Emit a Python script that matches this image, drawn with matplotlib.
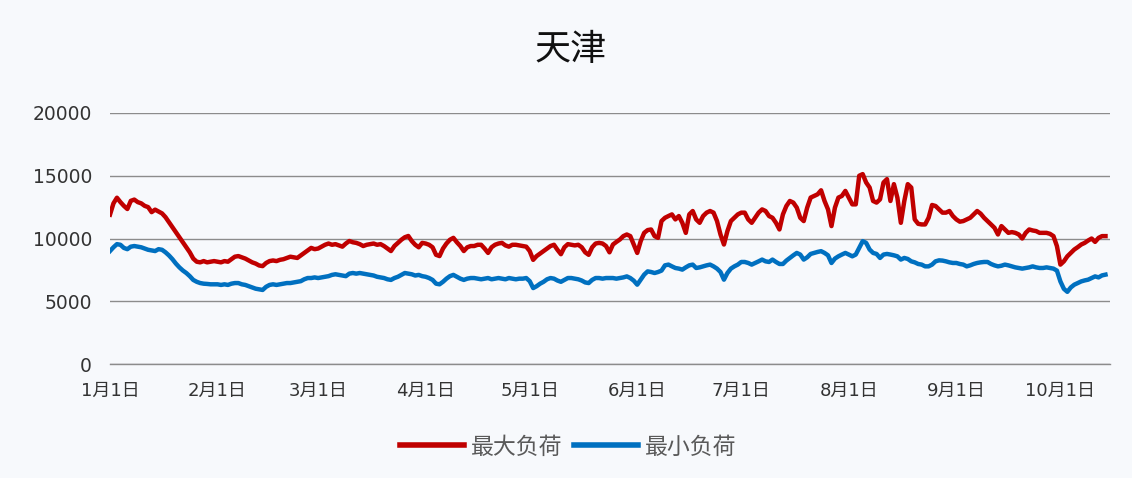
import matplotlib
matplotlib.use('Agg')
import matplotlib.pyplot as plt
import pandas as pd

plt.rcParams['font.family'] = ['DejaVu Sans', 'Noto Sans CJK SC']

# daily load, 2020-01-01 onwards (one list chunk per month)
max_load = (
    [11900, 12800, 13250, 12900, 12600, 12350, 13000, 13100, 12900, 12800, 12600, 12500, 12100, 12300, 12150, 12000,
     11700, 11300, 10900, 10500, 10100, 9700, 9300, 8900, 8400, 8150, 8100, 8200, 8100, 8150, 8200]
    + [8150, 8100, 8200, 8150, 8350, 8550, 8600, 8500, 8400, 8250, 8100, 8000, 7850, 7800, 8050, 8200, 8250, 8200,
       8300, 8350, 8450, 8550, 8500, 8450, 8650, 8850, 9050, 9250, 9150]
    + [9200, 9350, 9500, 9600, 9500, 9550, 9450, 9350, 9600, 9800, 9700, 9650, 9550, 9400, 9500, 9550, 9600, 9500,
       9550, 9400, 9200, 9000, 9400, 9650, 9900, 10100, 10200, 9800, 9500, 9300, 9650]
    + [9600, 9500, 9300, 8700, 8600, 9200, 9600, 9900, 10050, 9700, 9400, 9000, 9300, 9400, 9400, 9500, 9500, 9200,
       8850, 9300, 9500, 9600, 9650, 9450, 9350, 9500, 9500, 9450, 9400, 9350]
    + [9000, 8300, 8600, 8800, 9000, 9200, 9400, 9500, 9100, 8750, 9300, 9550, 9500, 9450, 9500, 9300, 8900, 8700,
       9300, 9600, 9650, 9600, 9400, 8900, 9520, 9730, 9920, 10190, 10320, 10190, 9520]
    + [8850, 9790, 10450, 10670, 10720, 10190, 10050, 11390, 11650, 11790, 11920, 11520, 11790, 11250, 10450, 11920,
       12190, 11520, 11250, 11790, 12060, 12190, 12060, 11390, 10320, 9520, 10590, 11390, 11650, 11920]
    + [12060, 12060, 11520, 11250, 11650, 12060, 12320, 12190, 11790, 11650, 11250, 10720, 11920, 12590, 12990, 12860,
       12460, 11650, 11390, 12460, 13260, 13390, 13520, 13840, 12990, 12320, 10990, 12460, 13260, 13390, 13790]
    + [13260, 12720, 12720, 15000, 15130, 14460, 14060, 12990, 12860, 13120, 14460, 14730, 12990, 14330, 13260, 11250,
       12990, 14330, 14060, 11520, 11170, 11120, 11120, 11650, 12670, 12590, 12320, 12060, 12060, 12190, 11790]
    + [11520, 11340, 11390, 11520, 11650, 11920, 12190, 11980, 11650, 11390, 11120, 10850, 10320, 10990, 10720, 10450,
       10510, 10450, 10320, 10000, 10450, 10720, 10640, 10590, 10450, 10450, 10450, 10370, 10190, 9390]
    + [7920, 8180, 8580, 8850, 9120, 9310, 9520, 9650, 9840, 10000, 9730, 10050, 10190, 10190]
)

min_load = (
    [9000, 9300, 9550, 9500, 9250, 9150, 9350, 9400, 9350, 9300, 9200, 9100, 9050, 9000, 9150, 9100, 8900, 8650,
     8350, 8000, 7700, 7450, 7250, 7000, 6700, 6550, 6450, 6400, 6380, 6350, 6350]
    + [6350, 6300, 6350, 6300, 6400, 6450, 6450, 6350, 6300, 6200, 6100, 6000, 5950, 5900, 6150, 6300, 6350, 6300,
       6350, 6400, 6450, 6450, 6500, 6550, 6600, 6750, 6850, 6850, 6900]
    + [6850, 6900, 6950, 7000, 7100, 7150, 7100, 7050, 7000, 7200, 7250, 7200, 7250, 7200, 7150, 7100, 7050, 6950,
       6900, 6850, 6750, 6700, 6850, 6950, 7100, 7250, 7200, 7150, 7050, 7100, 7000]
    + [6950, 6850, 6700, 6400, 6350, 6550, 6800, 7000, 7100, 6950, 6800, 6700, 6800, 6850, 6850, 6800, 6750, 6800,
       6850, 6750, 6800, 6850, 6800, 6750, 6850, 6800, 6750, 6800, 6800, 6850]
    + [6600, 6050, 6200, 6400, 6550, 6750, 6850, 6800, 6650, 6550, 6700, 6850, 6850, 6800, 6750, 6650, 6500, 6450,
       6700, 6850, 6850, 6800, 6850, 6850, 6850, 6800, 6850, 6900, 6980, 6850, 6640]
    + [6320, 6720, 7120, 7380, 7330, 7250, 7330, 7440, 7860, 7920, 7780, 7650, 7600, 7520, 7700, 7860, 7920, 7650,
       7700, 7780, 7860, 7920, 7780, 7600, 7330, 6720, 7250, 7600, 7780, 7920]
    + [8130, 8130, 8050, 7920, 8050, 8180, 8320, 8180, 8130, 8320, 8130, 7970, 7970, 8240, 8450, 8660, 8850, 8720,
       8320, 8500, 8770, 8850, 8930, 8990, 8850, 8660, 8050, 8400, 8580, 8720, 8850]
    + [8720, 8580, 8720, 9250, 9790, 9650, 9120, 8850, 8770, 8450, 8720, 8770, 8720, 8660, 8580, 8320, 8450, 8370,
       8180, 8100, 7970, 7920, 7780, 7780, 7920, 8180, 8260, 8240, 8180, 8100, 8050]
    + [8050, 7970, 7920, 7780, 7860, 7970, 8050, 8100, 8130, 8130, 7970, 7860, 7780, 7830, 7920, 7860, 7780, 7700,
       7650, 7600, 7650, 7700, 7780, 7700, 7650, 7650, 7700, 7650, 7600, 7440]
    + [6580, 5990, 5750, 6100, 6320, 6450, 6580, 6660, 6720, 6850, 6980, 6900, 7060, 7120]
)

dates = pd.date_range('2020-01-01', periods=len(max_load), freq='D')
month_ticks = pd.date_range('2020-01-01', '2020-10-01', freq='MS')
month_labels = [f'{m}月1日' for m in range(1, 11)]
y_ticks = [0, 5000, 10000, 15000, 20000]

bg = '#F7F9FC'
fig = plt.figure(figsize=(11.32, 4.78), dpi=100, facecolor=bg)
ax = fig.add_axes([110 / 1132, 1 - 364 / 478, 1000 / 1132, 251 / 478], facecolor=bg)

ax.plot(dates, max_load, color='#C00000', lw=3.2, label='最大负荷')
ax.plot(dates, min_load, color='#0070C0', lw=3.2, label='最小负荷')

ax.set_ylim(0, 20000)
ax.set_yticks(y_ticks)
ax.set_xlim(dates[0], dates[0] + pd.Timedelta(days=288.3))
ax.set_xticks(month_ticks)
ax.set_xticklabels(month_labels)

ax.grid(axis='y', color='#8C8C8C', lw=1)
ax.set_axisbelow(True)
for s in ['top', 'right', 'left']:
    ax.spines[s].set_visible(False)
ax.spines['bottom'].set_color('#8C8C8C')
ax.spines['bottom'].set_linewidth(1)
ax.tick_params(axis='y', length=0, pad=13, labelsize=13.5, labelcolor='#333333')
ax.tick_params(axis='x', length=0, pad=13, labelsize=13, labelcolor='#333333')

fig.text(571 / 1132, 1 - 50 / 478, '天津', ha='center', va='center', fontsize=26,
         family=['Noto Sans CJK SC'], color='#111111')

leg = fig.legend(loc='center', bbox_to_anchor=(568 / 1132, 1 - 447 / 478), ncol=2, frameon=False,
                 handlelength=2.8, handletextpad=0.3, columnspacing=0.5,
                 prop={'family': ['Noto Sans CJK SC'], 'size': 16.5})
for t in leg.get_texts():
    t.set_color('#595959')
for h in leg.get_lines():
    h.set_linewidth(4)

fig.savefig('out.png', dpi=100, facecolor=bg)
